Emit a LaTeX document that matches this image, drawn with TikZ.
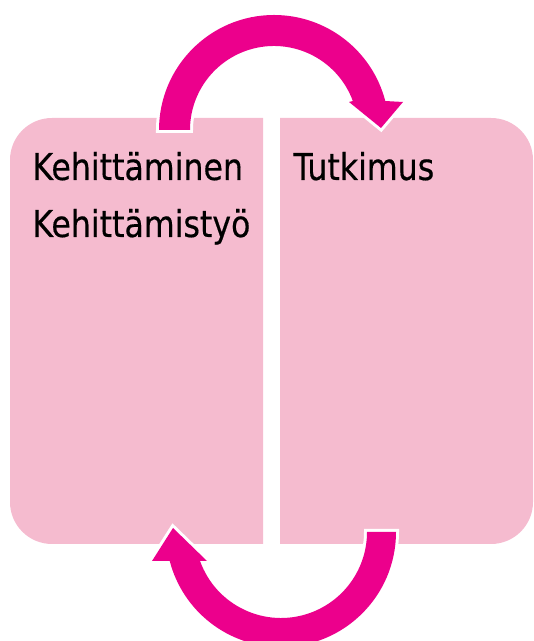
\documentclass[tikz,border=0pt]{standalone}
\usepackage{fontspec}
\setmainfont{DejaVu Sans Condensed}[FakeStretch=0.95,FakeBold=0.4]
\usetikzlibrary{calc}
\definecolor{panelpink}{RGB}{245,187,207}
\definecolor{arrowmagenta}{RGB}{236,0,140}
\tikzset{
  panel/.style={fill=panelpink},
  cyclearrow/.style={fill=arrowmagenta,preaction={draw=white,line width=3pt,line join=miter}},
  paneltext/.style={anchor=base west,inner sep=0pt,font=\fontsize{18.5}{22}\selectfont}
}

\begin{document}
\begin{tikzpicture}[x=0.5pt,y=0.5pt]
\useasboundingbox (0,0) rectangle (534,641);
\clip (0,0) rectangle (534,641);
% panels
\begin{scope}
\clip (0,0) rectangle (263,641);
\fill[panel,rounded corners=21pt] (10,97) rectangle (330,523);
\end{scope}
\begin{scope}
\clip (280,0) rectangle (534,641);
\fill[panel,rounded corners=21pt] (200,97) rectangle (533,523);
\end{scope}
% arrows
\coordinate (topc) at (274,511);
\coordinate (botc) at (281,109);
\fill[cyclearrow] ($(topc)+(180:115)$) arc[start angle=180,end angle=14.6,radius=115] -- (403,539) -- (381,513) -- (349,539) -- ($(topc)+(20.2:84)$) arc[start angle=20.2,end angle=180,radius=84] -- cycle;
\fill[cyclearrow] ($(botc)+(0:115)$) arc[start angle=0,end angle=-165.4,radius=115] -- (152,80) -- (173,113) -- (207,80) -- ($(botc)+(-160.3:86)$) arc[start angle=-160.3,end angle=0,radius=86] -- cycle;
% texts
\node[paneltext] (kehittaminen) at (32,461) {Kehittäminen};
\node[paneltext] (kehittamistyo) at (32,404) {Kehittämistyö};
\node[paneltext] (tutkimus) at (293,461) {Tutkimus};
\end{tikzpicture}
\end{document}
